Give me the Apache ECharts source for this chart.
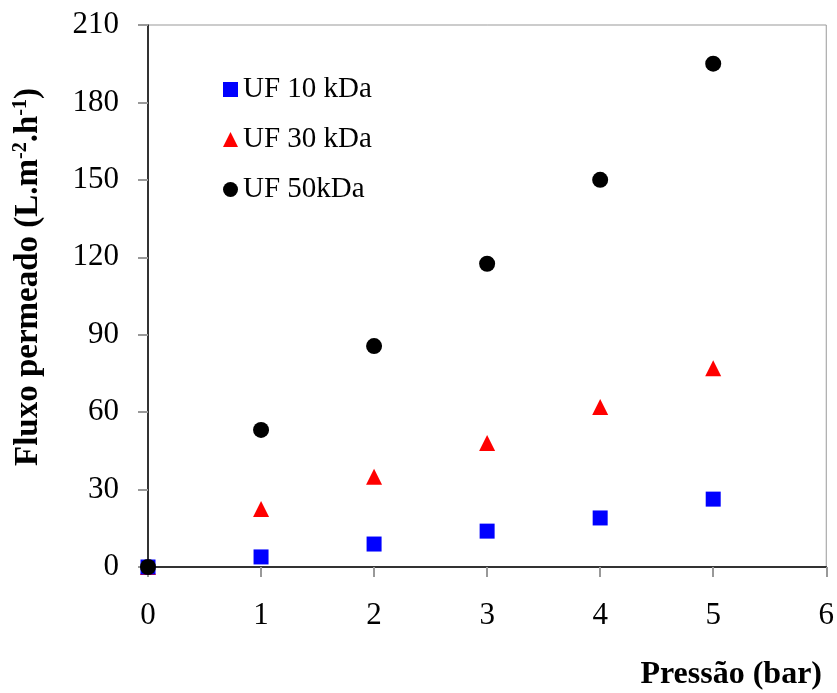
<!DOCTYPE html>
<html>
<head>
<meta charset="utf-8">
<script src="https://cdn.jsdelivr.net/npm/echarts@6/dist/echarts.min.js"></script>
<style>
  html, body { margin: 0; padding: 0; background: #fff; }
  #chart { width: 837px; height: 693px; }
</style>
</head>
<body>
<div id="chart"></div>
<script>
// pressure (bar)
var pressao = [0, 1, 2, 3, 4, 5];
// permeate flux per membrane
var uf10 = [0, 3.9, 8.9, 13.9, 19, 26.3];
var uf30 = [0, 22.5, 35, 48, 62, 77];
var uf50 = [0, 53.1, 85.6, 117.5, 150, 195];

var serif = '"Liberation Serif", "Times New Roman", serif';

function pts(ys) {
    return pressao.map(function (x, i) { return [x, ys[i]]; });
}

var chart = echarts.init(document.getElementById('chart'));

var option = {
    animation: false,
    backgroundColor: '#fff',
    textStyle: { fontFamily: serif },
    grid: {
        left: 148,
        right: 10,
        top: 25,
        bottom: 126,
        show: true,
        borderColor: '#999',
        borderWidth: 1
    },
    legend: {
        orient: 'vertical',
        left: 218,
        top: 70,
        itemWidth: 15,
        itemHeight: 15,
        itemGap: 21,
        textStyle: { fontFamily: serif, fontSize: 29, color: '#000' },
        data: [
            { name: 'UF 10 kDa', icon: 'rect' },
            { name: 'UF 30 kDa', icon: 'triangle' },
            { name: 'UF 50kDa', icon: 'circle' }
        ]
    },
    xAxis: {
        type: 'value',
        min: 0,
        max: 6,
        interval: 1,
        axisLine: { show: true, onZero: false, lineStyle: { color: '#000', width: 1.5 } },
        axisTick: { show: true, length: 10, lineStyle: { color: '#999', width: 2 } },
        axisLabel: { margin: 33, fontSize: 31, color: '#000', fontFamily: serif },
        splitLine: { show: false }
    },
    yAxis: {
        type: 'value',
        min: 0,
        max: 210,
        interval: 30,
        axisLine: { show: true, onZero: false, lineStyle: { color: '#000', width: 1.5 } },
        axisTick: { show: true, length: 10, lineStyle: { color: '#999', width: 2 } },
        axisLabel: { margin: 29, fontSize: 31, color: '#000', fontFamily: serif },
        splitLine: { show: false }
    },
    series: [
        {
            name: 'UF 10 kDa',
            type: 'scatter',
            symbol: 'rect',
            symbolSize: 15,
            z: 3,
            itemStyle: { color: '#0000ff', opacity: 1 },
            data: pts(uf10)
        },
        {
            name: 'UF 30 kDa',
            type: 'scatter',
            symbol: 'triangle',
            symbolSize: 16,
            z: 2,
            itemStyle: { color: '#ff0000', opacity: 1 },
            data: pts(uf30)
        },
        {
            name: 'UF 50kDa',
            type: 'scatter',
            symbol: 'circle',
            symbolSize: 16,
            z: 4,
            itemStyle: { color: '#000000', opacity: 1 },
            data: pts(uf50)
        }
    ],
    graphic: [
        {
            type: 'text',
            right: 15,
            top: 659,
            style: {
                text: 'Pressão (bar)',
                fontFamily: serif,
                fontSize: 32,
                fontWeight: 'bold',
                fill: '#000'
            }
        },
        {
            type: 'text',
            x: 28,
            y: 277,
            rotation: Math.PI / 2,
            style: {
                text: 'Fluxo permeado (L.m{sup|-2}.h{sup|-1})',
                fontFamily: serif,
                fontSize: 33,
                fontWeight: 'bold',
                fill: '#000',
                align: 'center',
                verticalAlign: 'middle',
                rich: {
                    sup: {
                        fontFamily: serif,
                        fontSize: 20,
                        fontWeight: 'bold',
                        verticalAlign: 'top',
                        lineHeight: 34
                    }
                }
            }
        }
    ]
};

chart.setOption(option);
</script>
</body>
</html>
